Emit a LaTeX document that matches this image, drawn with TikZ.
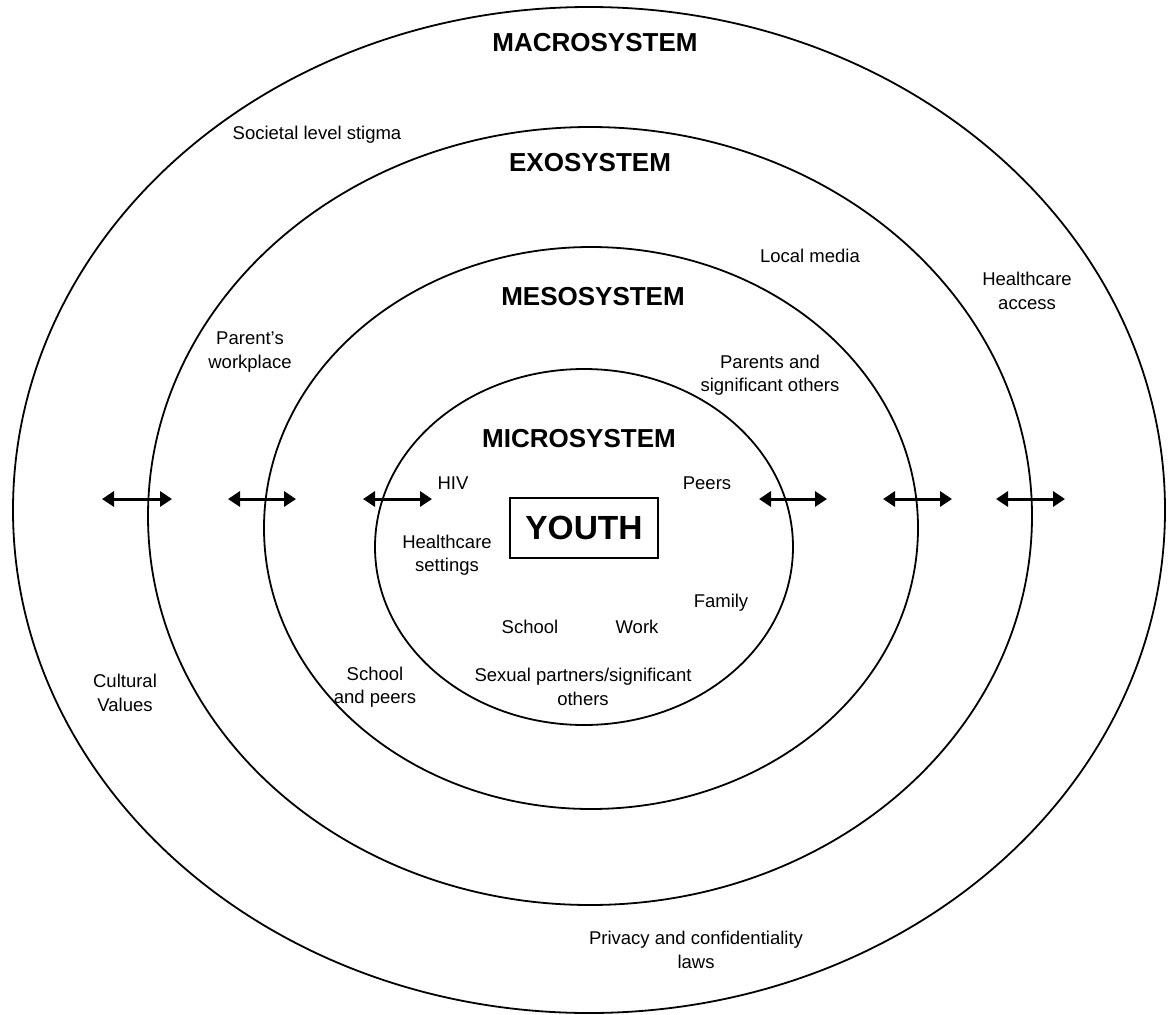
\documentclass[tikz,border=0pt]{standalone}
\usepackage{fontspec}
\setmainfont{Liberation Sans}
\usetikzlibrary{arrows.meta}
\begin{document}
\begin{tikzpicture}[x=1pt,y=-1pt,
  ring/.style={line width=1.8pt},
  title/.style={font=\fontsize{26}{30}\selectfont\bfseries, inner sep=0pt},
  lbl/.style={font=\fontsize{18.5}{23.5}\selectfont, align=center, inner sep=0pt},
  link/.style={line width=3pt, {Triangle[length=12pt,width=15pt]}-{Triangle[length=12pt,width=15pt]}}]
\useasboundingbox (0,0) rectangle (1168,1015);
\fill[white] (0,0) rectangle (1168,1015);
% rings
\draw[ring] (589,510) ellipse [x radius=576pt, y radius=503pt];
\draw[ring] (590,516) ellipse [x radius=442pt, y radius=389pt];
\draw[ring] (591,528) ellipse [x radius=327pt, y radius=281pt];
\draw[ring] (584,547) ellipse [x radius=209pt, y radius=178pt];
% titles
\node[title] (macro) at (595,43) {MACROSYSTEM};
\node[title] (exo) at (590,163) {EXOSYSTEM};
\node[title] (meso) at (593,297) {MESOSYSTEM};
\node[title] (micro) at (579,439) {MICROSYSTEM};
\node[draw, line width=1.5pt, minimum width=148pt, minimum height=60pt, inner sep=0pt,
      font=\fontsize{33.5}{36}\selectfont\bfseries] (youth) at (584,528) {YOUTH};
% microsystem labels
\node[lbl] (hiv) at (453,483) {HIV};
\node[lbl] (peers) at (707,483) {Peers};
\node[lbl] (hcs) at (447,555) {Healthcare\\settings};
\node[lbl] (family) at (721,603) {Family};
\node[lbl] (school) at (530,627) {School};
\node[lbl] (work) at (637,627) {Work};
\node[lbl] (sexual) at (583,687) {Sexual partners/significant\\others};
% mesosystem labels
\node[lbl] (parents) at (770,375) {Parents and\\significant others};
\node[lbl] (schoolpeers) at (375,687) {School\\and peers};
% exosystem labels
\node[lbl] (workplace) at (250,352) {Parent’s\\workplace};
\node[lbl] (media) at (810,256) {Local media};
% macrosystem labels
\node[lbl] (stigma) at (317,135) {Societal level stigma};
\node[lbl] (hcaccess) at (1027,291) {Healthcare\\access};
\node[lbl] (cultural) at (125,693) {Cultural\\Values};
\node[lbl] (privacy) at (696,950) {Privacy and confidentiality\\laws};
% arrows
\coordinate (a1l) at (102,499); \coordinate (a1r) at (172,499);
\coordinate (a2l) at (228,499); \coordinate (a2r) at (296,499);
\coordinate (a3l) at (363,499); \coordinate (a3r) at (432,499);
\coordinate (a4l) at (759,499); \coordinate (a4r) at (827,499);
\coordinate (a5l) at (883,499); \coordinate (a5r) at (952,499);
\coordinate (a6l) at (996,499); \coordinate (a6r) at (1065,499);
\draw[link] (a1l) -- (a1r);
\draw[link] (a2l) -- (a2r);
\draw[link] (a3l) -- (a3r);
\draw[link] (a4l) -- (a4r);
\draw[link] (a5l) -- (a5r);
\draw[link] (a6l) -- (a6r);
\end{tikzpicture}
\end{document}
